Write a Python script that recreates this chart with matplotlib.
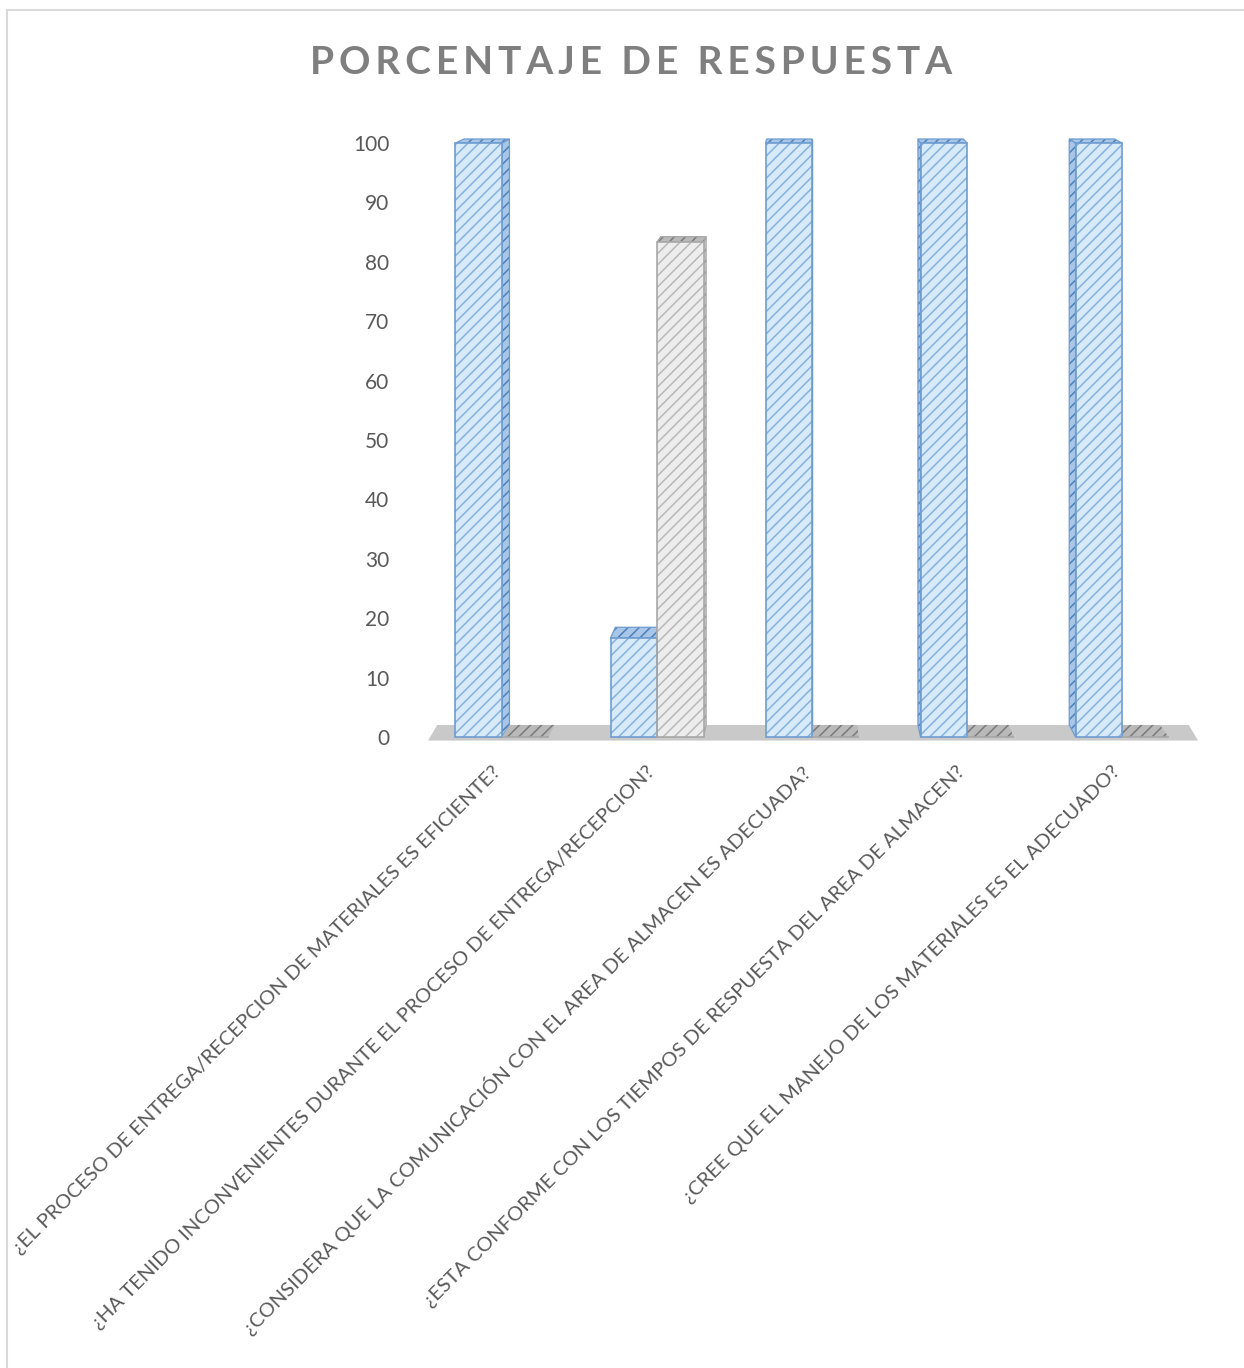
import matplotlib
matplotlib.use("Agg")
import matplotlib.pyplot as plt
from matplotlib.patches import Polygon
from matplotlib.lines import Line2D

# ---------------- data ----------------
categories = [
    "¿EL PROCESO DE ENTREGA/RECEPCION DE MATERIALES ES EFICIENTE?",
    "¿HA TENIDO INCONVENIENTES DURANTE EL PROCESO DE ENTREGA/RECEPCION?",
    "¿CONSIDERA QUE LA COMUNICACIÓN CON EL AREA DE ALMACEN ES ADECUADA?",
    "¿ESTA CONFORME CON LOS TIEMPOS DE RESPUESTA DEL AREA DE ALMACEN?",
    "¿CREE QUE EL MANEJO DE LOS MATERIALES ES EL ADECUADO?",
]
series_si = [100, 16.67, 100, 100, 100]
series_no = [0, 83.33, 0, 0, 0]
yticks = [0, 10, 20, 30, 40, 50, 60, 70, 80, 90, 100]
title = "PORCENTAJE DE RESPUESTA"

# ---------------- styling ----------------
plt.rcParams["font.family"] = ["Lato", "DejaVu Sans"]
plt.rcParams["hatch.linewidth"] = 1.1
TXT = "#595959"

W, H = 1244, 1368
fig = plt.figure(figsize=(W / 100, H / 100), dpi=100)
ax = fig.add_axes([420 / W, (H - 750) / H, 785 / W, 620 / H])
ax.set_xlim(-0.529, 4.535)
ax.set_ylim(-2.19, 102.19)
for s in ax.spines.values():
    s.set_visible(False)
ax.set_xticks([])
ax.set_yticks(yticks)
ax.set_yticklabels([str(v) for v in yticks], fontsize=15, color=TXT)
ax.tick_params(axis="y", length=0, pad=22)

# perspective helpers (depth direction)
VX, TX = 2.0, 0.024
VY, TY = 150.0, 0.0135


def back(x, y):
    return (x + TX * (VX - x), y + TY * (VY - y))


def hpoly(pts, fc, hc, ec, z, lw=0.9):
    ax.add_patch(Polygon(pts, closed=True, facecolor=fc, edgecolor=hc,
                         hatch="///", linewidth=0, zorder=z))
    ax.add_patch(Polygon(pts, closed=True, fill=False, edgecolor=ec,
                         linewidth=lw, zorder=z + 0.01))


# floor
n = len(categories)
fl_x0, fl_x1 = -0.477, n - 1 + 0.49
floor = [(fl_x0, -0.6), (fl_x1, -0.6), back(fl_x1, 0), back(fl_x0, 0)]
ax.add_patch(Polygon(floor, closed=True, facecolor="#c9c9c9",
                     edgecolor="none", zorder=1))

BW = 0.30
xs = list(range(n))
x_si = [x - BW for x in xs]
x_no = [x for x in xs]

series = [
    (x_si, series_si, dict(front="#d6eaf9", fhatch="#86b1dd", edge="#6f9ccf",
                           side="#a7c6e8", shatch="#4f80ba",
                           top="#a7c6e8", thatch="#4f80ba")),
    (x_no, series_no, dict(front="#ededed", fhatch="#b8b8b8", edge="#a8a8a8",
                           side="#d2d2d2", shatch="#8c8c8c",
                           top="#b9b9b9", thatch="#7a7a7a")),
]

# side and top faces
for xl, vals, st in series:
    for x0, v in zip(xl, vals):
        x1 = x0 + BW
        if v > 0:
            if x1 <= VX:
                side = [(x1, 0), (x1, v), back(x1, v), back(x1, 0)]
            else:
                side = [(x0, 0), (x0, v), back(x0, v), back(x0, 0)]
            hpoly(side, st["side"], st["shatch"], st["edge"], 2)
        top = [(x0, v), (x1, v), back(x1, v), back(x0, v)]
        hpoly(top, st["top"], st["thatch"], st["edge"] if v > 0 else "none", 3)

# front faces
for xl, vals, st in series:
    ax.bar(xl, vals, width=BW, align="edge", color=st["front"],
           edgecolor=st["fhatch"], hatch="///", linewidth=0, zorder=4)
    ax.bar(xl, vals, width=BW, align="edge", fill=False,
           edgecolor=st["edge"], linewidth=1.2, zorder=4.1)

# category labels
for x, lab in zip(xs, categories):
    ax.text(x - 0.03, -5.4, lab, rotation=45, rotation_mode="anchor",
            ha="right", va="center", fontsize=14.6, color=TXT, clip_on=False)

# title with letter spacing
fig.text(631 / W, 1 - 62 / H, "\u2009".join(title), ha="center", va="center",
         fontsize=28, fontweight="bold", color="#7f7f7f")

# chart border (top and left edges visible)
fig.add_artist(Line2D([7.5 / W, 7.5 / W], [0, 1 - 9.5 / H],
                      transform=fig.transFigure, color="#d9d9d9", lw=1.5))
fig.add_artist(Line2D([7.5 / W, 1], [1 - 9.5 / H, 1 - 9.5 / H],
                      transform=fig.transFigure, color="#d9d9d9", lw=1.5))

fig.savefig("out.png", dpi=100, facecolor="white")
